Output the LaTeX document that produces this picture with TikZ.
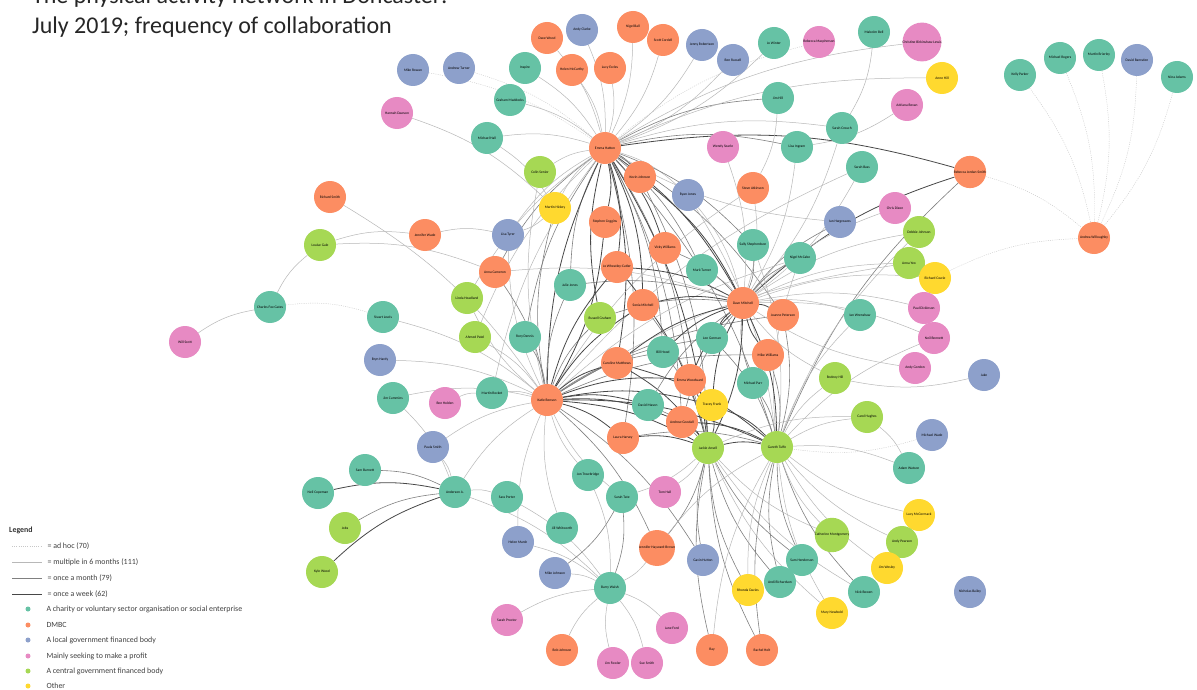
\documentclass[tikz,border=0pt]{standalone}
\usepackage{fontspec}
\setmainfont{Carlito}
\definecolor{cG}{RGB}{102,194,165}
\definecolor{cO}{RGB}{252,141,98}
\definecolor{cB}{RGB}{141,160,203}
\definecolor{cP}{RGB}{231,138,195}
\definecolor{cL}{RGB}{166,216,84}
\definecolor{cY}{RGB}{255,217,47}
\pgfdeclarelayer{edgelayer}
\pgfsetlayers{edgelayer,main}
\tikzset{
  org/.style={circle, minimum size=32pt, inner sep=0pt, text=black,
    font=\fontsize{3.6}{4}\selectfont},
  cha/.style={org, fill=cG},
  dmbc/.style={org, fill=cO},
  lgov/.style={org, fill=cB},
  prof/.style={org, fill=cP},
  cgov/.style={org, fill=cL},
  oth/.style={org, fill=cY},
  adhoc/.style={draw=black!22, line width=0.4pt, dash pattern=on 1pt off 1.2pt},
  six/.style={draw=black!28, line width=0.5pt},
  month/.style={draw=black!50, line width=0.6pt},
  week/.style={draw=black!72, line width=0.8pt},
  lgtext/.style={anchor=west, text=black!75, font=\fontsize{7.9}{8.5}\selectfont},
  lgdot/.style={circle, minimum size=5pt, inner sep=0pt},
}
\newcommand\lnk[3]{\draw[#1] (#2) to[bend left=12] (#3);}
\begin{document}
\begin{tikzpicture}[x=1pt,y=-1pt]
\useasboundingbox (0,0) rectangle (1197,690);

% title
\node[anchor=base west, font=\fontsize{24}{28}\selectfont, text=black!85, inner sep=0pt]
  (title1) at (32,4) {The physical activity network in Doncaster:};
\node[anchor=base west, font=\fontsize{24}{28}\selectfont, text=black!85, inner sep=0pt]
  (title2) at (32,34) {July 2019; frequency of collaboration};

% organisations
\node[dmbc] (n1) at (547,38) {Dave Wood};
\node[lgov] (n2) at (582,30) {Andy Clarke};
\node[dmbc] (n3) at (633,27) {Nigel Ball};
\node[dmbc] (n4) at (663,40) {Scott Cordell};
\node[lgov] (n5) at (702,45) {Jenny Robertson};
\node[lgov] (n6) at (733,60) {Ben Russell};
\node[cha] (n7) at (774,43) {Jo Winter};
\node[dmbc] (n8) at (572,70) {Helen McCarthy};
\node[dmbc] (n9) at (610,68) {Lucy Eccles};
\node[cha] (n10) at (525,68) {Inspire};
\node[cha] (n11) at (510,100) {Graham Maddocks};
\node[lgov] (n12) at (413,70) {Mike Rowan};
\node[lgov] (n13) at (459,68) {Andrew Turner};
\node[prof] (n14) at (397,113) {Hannah Dawson};
\node[prof] (n15) at (819,42) {Rebecca Macpherson};
\node[cha] (n16) at (874,32) {Malcolm Bell};
\node[prof] (n17) at (922,42) {Christine Birkinshaw-Lewis};
\node[oth] (n18) at (942,78) {Anne Hill};
\node[prof] (n19) at (907,105) {Adriana Bevan};
\node[cha] (n20) at (778,98) {Jim Hill};
\node[cha] (n21) at (487,138) {Michael Hall};
\node[dmbc] (n22) at (605,148) {Emma Hatton};
\node[prof] (n23) at (723,147) {Wendy Searle};
\node[cha] (n24) at (797,147) {Lisa Ingram};
\node[cha] (n25) at (842,128) {Sarah Crouch};
\node[cha] (n26) at (862,167) {Sarah Bass};
\node[dmbc] (n27) at (970,172) {Rebecca Jordan-Smith};
\node[cgov] (n28) at (540,172) {Colin Senior};
\node[dmbc] (n29) at (640,177) {Kevin Johnson};
\node[lgov] (n30) at (688,195) {Ryan Jones};
\node[dmbc] (n31) at (753,188) {Steve Atkinson};
\node[oth] (n32) at (555,208) {Martin Hickey};
\node[dmbc] (n33) at (425,235) {Jennifer Wade};
\node[lgov] (n34) at (508,235) {Lisa Tyrer};
\node[dmbc] (n35) at (605,222) {Stephen Coggins};
\node[dmbc] (n36) at (665,248) {Vicky Williams};
\node[cha] (n37) at (753,245) {Sally Shepherdson};
\node[lgov] (n38) at (840,222) {Ian Hargreaves};
\node[prof] (n39) at (895,208) {Chris Dixon};
\node[cgov] (n40) at (919,232) {Debbie Johnson};
\node[dmbc] (n41) at (330,197) {Richard Smith};
\node[cgov] (n42) at (320,245) {Louise Gale};
\node[cha] (n43) at (270,307) {Charles Fox-Gates};
\node[prof] (n44) at (185,342) {Will Scott};
\node[dmbc] (n45) at (495,272) {Anna Cameron};
\node[cha] (n46) at (570,285) {Julie Jones};
\node[dmbc] (n47) at (617,267) {Jo Wheatley-Cutler};
\node[cha] (n48) at (702,270) {Mark Turner};
\node[cha] (n49) at (800,258) {Nigel McCabe};
\node[cgov] (n50) at (909,263) {Anna Yeo};
\node[oth] (n51) at (935,278) {Richard Cowie};
\node[dmbc] (n52) at (1094,238) {Andrea Willoughby};
\node[cha] (n53) at (1020,75) {Kelly Parker};
\node[cha] (n54) at (1060,58) {Michael Rogers};
\node[cha] (n55) at (1099,55) {Martin Brierley};
\node[lgov] (n56) at (1137,60) {David Ramsden};
\node[cha] (n57) at (1177,77) {Nina Adams};
\node[cgov] (n58) at (467,298) {Linda Headland};
\node[cgov] (n59) at (600,318) {Russell Graham};
\node[dmbc] (n60) at (643,305) {Sonia Mitchell};
\node[dmbc] (n61) at (743,303) {Dave Mitchell};
\node[dmbc] (n62) at (783,315) {Joanne Peterson};
\node[cha] (n63) at (860,315) {Ian Wrenshaw};
\node[prof] (n64) at (924,308) {Paul Dickinson};
\node[prof] (n65) at (934,338) {Neil Bennett};
\node[cha] (n66) at (383,317) {Stuart Lewis};
\node[cgov] (n67) at (475,337) {Ahmed Patel};
\node[cha] (n68) at (525,337) {Rory Dennis};
\node[cha] (n69) at (663,352) {Bill Hood};
\node[cha] (n70) at (712,338) {Lee Gorman};
\node[dmbc] (n71) at (617,363) {Caroline Matthews};
\node[dmbc] (n72) at (768,355) {Mike Williams};
\node[dmbc] (n73) at (690,380) {Emma Woodward};
\node[cha] (n74) at (753,383) {Michael Parr};
\node[lgov] (n75) at (380,360) {Bryn Hardy};
\node[cha] (n76) at (393,398) {Jim Cummins};
\node[prof] (n77) at (445,403) {Ben Holden};
\node[cha] (n78) at (492,393) {Martin Rocket};
\node[dmbc] (n79) at (547,400) {Katie Benson};
\node[cha] (n80) at (648,405) {David Mason};
\node[oth] (n81) at (712,405) {Tracey Frank};
\node[dmbc] (n82) at (682,422) {Andrew Goodall};
\node[dmbc] (n83) at (623,438) {Laura Harvey};
\node[cgov] (n84) at (708,448) {Jackie Ansell};
\node[cgov] (n85) at (777,447) {Gareth Tuffe};
\node[cgov] (n86) at (835,378) {Rodney Hill};
\node[prof] (n87) at (915,368) {Andy Gordon};
\node[lgov] (n88) at (984,375) {Jake};
\node[lgov] (n89) at (433,447) {Paula Smith};
\node[cgov] (n90) at (867,417) {Carol Hughes};
\node[lgov] (n91) at (932,435) {Michael Wade};
\node[cha] (n92) at (909,468) {Adam Watson};
\node[cha] (n93) at (365,470) {Sam Burnett};
\node[cha] (n94) at (318,493) {Neil Copeman};
\node[cha] (n95) at (455,492) {Anderson A.};
\node[cha] (n96) at (507,497) {Sara Porter};
\node[cha] (n97) at (588,475) {Jon Trowbridge};
\node[cha] (n98) at (622,497) {Sarah Tate};
\node[prof] (n99) at (665,492) {Tom Hall};
\node[cgov] (n100) at (345,528) {Jobs};
\node[cgov] (n101) at (322,572) {Kyle Wood};
\node[cha] (n102) at (562,528) {Jill Whitworth};
\node[lgov] (n103) at (518,542) {Helen Marsh};
\node[dmbc] (n104) at (657,548) {Jennifer Hayward-Brown};
\node[lgov] (n105) at (703,560) {Gavin Hutton};
\node[lgov] (n106) at (555,573) {Mike Johnson};
\node[cha] (n107) at (610,588) {Barry Walsh};
\node[oth] (n108) at (748,590) {Rhonda Davies};
\node[cha] (n109) at (780,582) {Andi Richardson};
\node[cha] (n110) at (802,560) {Sam Henderson};
\node[cgov] (n111) at (832,535) {Catherine Montgomery};
\node[oth] (n112) at (919,515) {Lucy McCormack};
\node[cgov] (n113) at (902,542) {Andy Pearson};
\node[oth] (n114) at (887,568) {Jim Wesley};
\node[cha] (n115) at (864,592) {Nick Bowen};
\node[oth] (n116) at (832,613) {Mary Newbold};
\node[lgov] (n117) at (970,592) {Nicholas Bailey};
\node[prof] (n118) at (507,620) {Sarah Proctor};
\node[prof] (n119) at (672,628) {Jane Ford};
\node[dmbc] (n120) at (562,650) {Bob Johnson};
\node[prof] (n121) at (613,663) {Jim Fowler};
\node[prof] (n122) at (647,663) {Sue Smith};
\node[dmbc] (n123) at (712,650) {Ray};
\node[dmbc] (n124) at (762,650) {Rachel Holt};

% legend
\node[anchor=west, inner sep=0pt, text=black!80, font=\bfseries\fontsize{7.9}{8.5}\selectfont] (lghead) at (9,530) {Legend};
\coordinate (la0) at (12,546); \coordinate (la1) at (42,546);
\coordinate (lb0) at (12,562); \coordinate (lb1) at (42,562);
\coordinate (lc0) at (12,578); \coordinate (lc1) at (42,578);
\coordinate (ld0) at (12,594); \coordinate (ld1) at (42,594);
\draw[adhoc] (la0) -- (la1);
\draw[six] (lb0) -- (lb1);
\draw[month] (lc0) -- (lc1);
\draw[week] (ld0) -- (ld1);
\node[lgtext] (lt1) at (44,546) {= ad hoc (70)};
\node[lgtext] (lt2) at (44,562) {= multiple in 6 months (111)};
\node[lgtext] (lt3) at (44,578) {= once a month (79)};
\node[lgtext] (lt4) at (44,594) {= once a week (62)};
\node[lgdot, fill=cG] (k1) at (28,609) {};
\node[lgdot, fill=cO] (k2) at (28,625) {};
\node[lgdot, fill=cB] (k3) at (28,640) {};
\node[lgdot, fill=cP] (k4) at (28,656) {};
\node[lgdot, fill=cL] (k5) at (28,671) {};
\node[lgdot, fill=cY] (k6) at (28,686) {};
\node[lgtext] (kt1) at (43,609) {A charity or voluntary sector organisation or social enterprise};
\node[lgtext] (kt2) at (43,625) {DMBC};
\node[lgtext] (kt3) at (43,640) {A local government financed body};
\node[lgtext] (kt4) at (43,656) {Mainly seeking to make a profit};
\node[lgtext] (kt5) at (43,671) {A central government financed body};
\node[lgtext] (kt6) at (43,686) {Other};

% collaborations
\begin{pgfonlayer}{edgelayer}
\fill[white] (0,0) rectangle (1197,690);
% Emma Hatton
\lnk{six}{n1}{n22} \lnk{six}{n2}{n22} \lnk{six}{n3}{n22} \lnk{six}{n4}{n22}
\lnk{six}{n5}{n22} \lnk{six}{n6}{n22} \lnk{six}{n8}{n22} \lnk{six}{n9}{n22}
\lnk{six}{n10}{n22} \lnk{six}{n11}{n22} \lnk{six}{n21}{n22} \lnk{adhoc}{n12}{n22}
\lnk{adhoc}{n13}{n22} \lnk{six}{n7}{n22} \lnk{month}{n22}{n20} \lnk{six}{n22}{n17}
\lnk{adhoc}{n22}{n15} \lnk{six}{n22}{n18} \lnk{week}{n22}{n27}
\lnk{week}{n22}{n29} \lnk{week}{n22}{n35} \lnk{week}{n22}{n36} \lnk{week}{n22}{n47}
\lnk{week}{n22}{n60} \lnk{week}{n22}{n61} \lnk{month}{n22}{n48} \lnk{month}{n46}{n22}
\lnk{week}{n59}{n22} \lnk{week}{n22}{n71} \lnk{month}{n22}{n69} \lnk{month}{n22}{n73}
\lnk{week}{n79}{n22} \lnk{week}{n22}{n84} \lnk{month}{n22}{n85} \lnk{month}{n22}{n62}
\lnk{six}{n22}{n30} \lnk{six}{n28}{n22} \lnk{six}{n32}{n22} \lnk{month}{n22}{n37}
\lnk{six}{n34}{n22} \lnk{month}{n22}{n83} \lnk{month}{n22}{n82} \lnk{month}{n45}{n22}
\lnk{month}{n68}{n22} \lnk{six}{n58}{n22} \lnk{six}{n67}{n22} \lnk{six}{n78}{n22}
\lnk{month}{n22}{n24} \lnk{six}{n22}{n25} \lnk{six}{n38}{n22}
% upper area
\lnk{six}{n14}{n32} \lnk{six}{n23}{n61} \lnk{six}{n16}{n25} \lnk{six}{n19}{n24}
\lnk{six}{n24}{n61} \lnk{six}{n25}{n61} \lnk{six}{n26}{n61} \lnk{six}{n79}{n26}
\lnk{week}{n61}{n27} \lnk{month}{n85}{n27} \lnk{adhoc}{n27}{n52}
\lnk{six}{n20}{n31} \lnk{six}{n31}{n61} \lnk{six}{n79}{n31}
\lnk{six}{n30}{n61} \lnk{six}{n30}{n85} \lnk{six}{n79}{n28} \lnk{six}{n21}{n32}
\lnk{six}{n32}{n34} \lnk{month}{n79}{n32} \lnk{six}{n33}{n34} \lnk{six}{n42}{n33}
\lnk{six}{n41}{n79} \lnk{six}{n42}{n45} \lnk{six}{n43}{n42} \lnk{six}{n44}{n43}
\lnk{adhoc}{n43}{n66} \lnk{six}{n79}{n34}
% far right group
\lnk{adhoc}{n53}{n52} \lnk{adhoc}{n54}{n52} \lnk{adhoc}{n55}{n52}
\lnk{adhoc}{n56}{n52} \lnk{adhoc}{n57}{n52} \lnk{adhoc}{n51}{n52}
% Dave Mitchell
\lnk{month}{n45}{n79} \lnk{six}{n45}{n61} \lnk{month}{n46}{n61} \lnk{month}{n79}{n46}
\lnk{week}{n47}{n61} \lnk{week}{n79}{n47} \lnk{week}{n47}{n84} \lnk{six}{n48}{n61}
\lnk{month}{n37}{n61} \lnk{six}{n37}{n85} \lnk{month}{n61}{n38} \lnk{six}{n61}{n39}
\lnk{six}{n61}{n40} \lnk{six}{n85}{n40} \lnk{month}{n61}{n49} \lnk{six}{n79}{n49}
\lnk{six}{n85}{n49} \lnk{six}{n61}{n50} \lnk{six}{n79}{n50} \lnk{six}{n61}{n51}
\lnk{six}{n79}{n58} \lnk{month}{n59}{n61} \lnk{month}{n79}{n59} \lnk{week}{n60}{n61}
\lnk{week}{n79}{n60} \lnk{month}{n60}{n84} \lnk{week}{n61}{n62} \lnk{month}{n62}{n85}
\lnk{month}{n79}{n62} \lnk{six}{n61}{n63} \lnk{six}{n85}{n63} \lnk{six}{n61}{n64}
\lnk{six}{n85}{n65} \lnk{six}{n61}{n65} \lnk{week}{n29}{n61} \lnk{week}{n35}{n79}
\lnk{month}{n36}{n61} \lnk{month}{n29}{n84}
% Katie Benson
\lnk{six}{n66}{n79} \lnk{six}{n67}{n79} \lnk{month}{n68}{n79} \lnk{week}{n69}{n61}
\lnk{month}{n79}{n69} \lnk{month}{n69}{n84} \lnk{week}{n70}{n61} \lnk{month}{n79}{n70}
\lnk{month}{n70}{n85} \lnk{week}{n71}{n61} \lnk{week}{n79}{n71} \lnk{week}{n71}{n85}
\lnk{week}{n71}{n84} \lnk{week}{n72}{n61} \lnk{month}{n79}{n72} \lnk{month}{n72}{n85}
\lnk{week}{n73}{n61} \lnk{week}{n79}{n73} \lnk{week}{n73}{n84} \lnk{month}{n74}{n61}
\lnk{month}{n74}{n85} \lnk{six}{n75}{n79} \lnk{six}{n76}{n79} \lnk{six}{n76}{n95}
\lnk{six}{n77}{n78} \lnk{six}{n78}{n79} \lnk{week}{n79}{n80} \lnk{week}{n79}{n81}
\lnk{week}{n79}{n82} \lnk{week}{n79}{n83} \lnk{week}{n79}{n84} \lnk{week}{n79}{n85}
\lnk{six}{n97}{n79} \lnk{six}{n98}{n79} \lnk{six}{n102}{n79} \lnk{month}{n79}{n104}
\lnk{month}{n79}{n105} \lnk{six}{n95}{n79} \lnk{six}{n89}{n79} \lnk{six}{n103}{n79}
\lnk{month}{n80}{n61} \lnk{month}{n80}{n84} \lnk{week}{n81}{n61} \lnk{week}{n81}{n84}
\lnk{week}{n81}{n85} \lnk{week}{n82}{n84} \lnk{week}{n82}{n85} \lnk{month}{n82}{n61}
\lnk{week}{n83}{n84} \lnk{month}{n83}{n85} \lnk{week}{n84}{n85} \lnk{week}{n61}{n84}
\lnk{week}{n61}{n85}
% Jackie Ansell and Gareth Tuffe
\lnk{month}{n84}{n104} \lnk{month}{n105}{n84} \lnk{month}{n108}{n84} \lnk{month}{n109}{n84}
\lnk{month}{n110}{n84} \lnk{six}{n111}{n84} \lnk{six}{n115}{n84} \lnk{month}{n123}{n84}
\lnk{month}{n124}{n84} \lnk{six}{n116}{n84} \lnk{six}{n84}{n98} \lnk{six}{n84}{n99}
\lnk{six}{n85}{n86} \lnk{six}{n85}{n90} \lnk{six}{n85}{n92} \lnk{six}{n112}{n85}
\lnk{six}{n113}{n85} \lnk{six}{n114}{n85} \lnk{month}{n115}{n85} \lnk{six}{n116}{n85}
\lnk{month}{n110}{n85} \lnk{month}{n109}{n85} \lnk{six}{n108}{n85} \lnk{six}{n123}{n85}
\lnk{month}{n124}{n85} \lnk{six}{n111}{n85} \lnk{six}{n104}{n85} \lnk{adhoc}{n91}{n85}
\lnk{six}{n88}{n86} \lnk{six}{n86}{n61} \lnk{six}{n87}{n61} \lnk{six}{n90}{n92}
\lnk{six}{n84}{n90}
% Anderson A. and Barry Walsh
\lnk{month}{n93}{n95} \lnk{week}{n94}{n95} \lnk{month}{n100}{n95} \lnk{week}{n101}{n95}
\lnk{six}{n95}{n96} \lnk{six}{n89}{n95} \lnk{six}{n95}{n107} \lnk{six}{n96}{n107}
\lnk{six}{n97}{n107} \lnk{month}{n98}{n107} \lnk{month}{n98}{n106} \lnk{six}{n103}{n107}
\lnk{six}{n104}{n107} \lnk{six}{n118}{n107} \lnk{six}{n107}{n119} \lnk{six}{n120}{n107}
\lnk{six}{n121}{n107} \lnk{six}{n107}{n122} \lnk{six}{n106}{n107}
\end{pgfonlayer}
\end{tikzpicture}
\end{document}
